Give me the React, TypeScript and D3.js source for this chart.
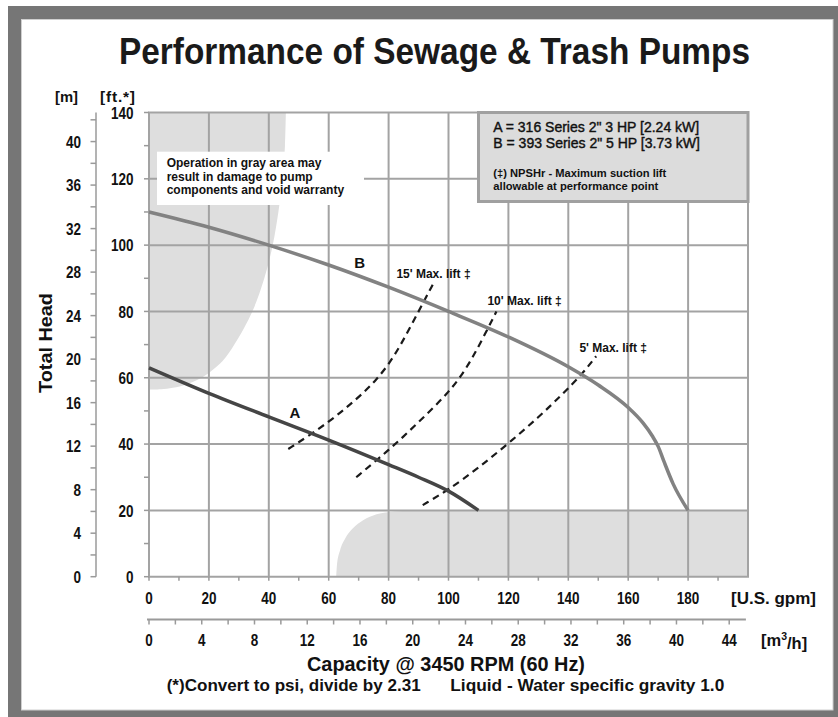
import { useEffect, useRef } from "react";
import * as d3 from "d3";

type Pt = [number, number]; // [U.S. gpm, ft]

const titleText = "Performance of Sewage & Trash Pumps";

// axis ticks
const gpmLabels = [0, 20, 40, 60, 80, 100, 120, 140, 160, 180];
const gpmGrid = [0, 20, 40, 60, 80, 100, 120, 140, 160, 180, 200];
const gpmMinor = [0, 10, 20, 30, 40, 50, 60, 70, 80, 90, 100, 110, 120, 130, 140, 150, 160, 170, 180, 190];
const m3hLabels = [0, 4, 8, 12, 16, 20, 24, 28, 32, 36, 40, 44];
const m3hMinor = [0, 2, 4, 6, 8, 10, 12, 14, 16, 18, 20, 22, 24, 26, 28, 30, 32, 34, 36, 38, 40, 42, 44];
const ftLabels = [0, 20, 40, 60, 80, 100, 120, 140];
const ftMinor = [0, 10, 20, 30, 40, 50, 60, 70, 80, 90, 100, 110, 120, 130, 140];
const mLabels = [0, 4, 8, 12, 16, 20, 24, 28, 32, 36, 40];
const mMinor = [0, 2, 4, 6, 8, 10, 12, 14, 16, 18, 20, 22, 24, 26, 28, 30, 32, 34, 36, 38, 40, 42];

// pump curves (gpm, ft)
const pumpA: Pt[] = [[0, 63], [20, 55.3], [40, 48.2], [60, 41.2], [80, 33.8], [90, 30], [100, 25.8], [110, 20]];
const pumpB: Pt[] = [
  [0, 110], [20, 105.4], [40, 100], [60, 94], [80, 87.3], [100, 80], [120, 72.3],
  [140, 63.3], [150, 57.8], [160, 51], [165, 46.3], [168, 42.5], [170, 39.3],
  [172, 34.6], [175, 28], [180, 20],
];

// NPSHr max suction lift lines
const lift15: Pt[] = [[46.5, 38.5], [53, 42.3], [60, 46.7], [66, 51], [72, 55.8], [76, 59.5], [80, 64], [84, 69.8], [88, 76.6], [92, 83.4], [94.8, 88.2]];
const lift10: Pt[] = [[69.2, 30], [75, 34.4], [80, 38.2], [85, 42.3], [90, 46.6], [95, 51], [100, 55.7], [104, 60.2], [108, 66], [112, 72.8], [116, 80]];
const lift5: Pt[] = [[91.4, 21.6], [100, 26.2], [110, 32.8], [120, 40.2], [130, 48], [138, 55], [145, 61.5], [149.3, 66.5]];

// gray "do not operate" zones
const grayTopLeft: Pt[] = [
  [45.7, 140], [45.4, 130], [44.6, 120], [43.2, 110], [41.3, 100], [38.5, 90], [34.5, 80],
  [28.5, 70], [24.5, 65], [17.5, 60], [12.5, 58], [8, 57], [4, 56.5], [0, 56.4],
];
const grayBottom: Pt[] = [[62.5, 0], [62.8, 4], [63.8, 8], [65.5, 11.5], [68, 14.5], [71.5, 17], [76, 18.8], [82, 19.7], [90, 20], [200, 20]];

const warningLines = ["Operation in gray area may", "result in damage to pump", "components and void warranty"];
const modelLines = ["A = 316 Series 2\" 3 HP [2.24 kW]", "B = 393 Series 2\" 5 HP [3.73 kW]"];
const npshLines = ["(\u2021) NPSHr - Maximum suction lift", "allowable at performance point"];

const FT_PER_M = 3.28084;
const GPM_PER_M3H = 4.40287;

const SANS = "'Liberation Sans', Arial, Helvetica, sans-serif";
const GRID = "#a3a3a3";

export default function App() {
  const ref = useRef<SVGSVGElement>(null);

  useEffect(() => {
    if (!ref.current) return;
    const svg = d3.select(ref.current);
    svg.selectAll("*").remove();

    const x = d3.scaleLinear().domain([0, 200]).range([149, 748]);
    const y = d3.scaleLinear().domain([0, 140]).range([576.7, 112.5]);

    const text = (g: any, tx: number, ty: number, s: string, size: number, anchor = "start") =>
      g.append("text")
        .attr("x", tx).attr("y", ty)
        .attr("font-family", SANS)
        .attr("font-size", size)
        .attr("font-weight", "bold")
        .attr("fill", "#111")
        .attr("text-anchor", anchor)
        .text(s);

    // condensed look for tick numbers
    const num = (tx: number, ty: number, v: number, anchor: string) =>
      text(svg, tx, ty, String(v), 17, anchor)
        .attr("dy", "0.36em")
        .attr("textLength", String(v).length * 7.5)
        .attr("lengthAdjust", "spacingAndGlyphs");

    // frame
    svg.append("rect").attr("x", 8).attr("y", 6).attr("width", 850).attr("height", 730).attr("fill", "#767676");
    svg.append("rect").attr("x", 21.5).attr("y", 19.5).attr("width", 811.5).attr("height", 690.5)
      .attr("fill", "#fff").attr("stroke", "#cfcfcf").attr("stroke-width", 1);

    // title
    text(svg, 119, 64, titleText, 37)
      .attr("textLength", 631).attr("lengthAdjust", "spacingAndGlyphs")
      .attr("fill", "#1a1a1a");

    // gray zones
    svg.append("path")
      .datum(grayTopLeft)
      .attr("fill", "#dedede")
      .attr("d", d3.area<Pt>()
        .y(d => y(d[1]))
        .x0(x(0))
        .x1(d => x(d[0]))
        .curve(d3.curveCatmullRom));

    svg.append("path")
      .datum(grayBottom)
      .attr("fill", "#dedede")
      .attr("d", d3.area<Pt>()
        .x(d => x(d[0]))
        .y0(y(0))
        .y1(d => y(d[1]))
        .curve(d3.curveMonotoneX));

    // grid
    const grid = svg.append("g").attr("stroke", GRID).attr("stroke-width", 2);
    grid.selectAll("line.v").data(gpmGrid).join("line")
      .attr("x1", d => x(d)).attr("x2", d => x(d))
      .attr("y1", y(0)).attr("y2", y(140));
    grid.selectAll("line.h").data(ftLabels).join("line")
      .attr("class", "h")
      .attr("x1", x(0) - 1).attr("x2", x(200) + 1)
      .attr("y1", d => y(d)).attr("y2", d => y(d));

    // ticks
    const ticks = svg.append("g").attr("stroke", "#9a9a9a").attr("stroke-width", 1.5);
    ticks.selectAll("line.ft").data(ftMinor).join("line").attr("class", "ft")
      .attr("x1", x(0) - 5).attr("x2", x(0))
      .attr("y1", d => y(d)).attr("y2", d => y(d));
    ticks.selectAll("line.gpm").data(gpmMinor).join("line").attr("class", "gpm")
      .attr("x1", d => x(d)).attr("x2", d => x(d))
      .attr("y1", y(0)).attr("y2", y(0) + 4);

    // metre axis
    ticks.append("line").attr("x1", 96).attr("x2", 96).attr("y1", y(0)).attr("y2", y(140));
    ticks.selectAll("line.m").data(mMinor).join("line").attr("class", "m")
      .attr("x1", 90.5).attr("x2", 96)
      .attr("y1", d => y(d * FT_PER_M)).attr("y2", d => y(d * FT_PER_M));

    // m3/h axis
    const m3hY = 619.5;
    ticks.append("line").attr("x1", x(0) - 2).attr("x2", x(199.3)).attr("y1", m3hY).attr("y2", m3hY).attr("stroke-width", 2);
    ticks.selectAll("line.q").data(m3hMinor).join("line").attr("class", "q")
      .attr("x1", d => x(d * GPM_PER_M3H)).attr("x2", d => x(d * GPM_PER_M3H))
      .attr("y1", m3hY).attr("y2", m3hY + 5);

    // tick labels
    ftLabels.forEach(v => num(133.5, y(v), v, "end"));
    mLabels.forEach(v => num(81, y(v * FT_PER_M), v, "end"));
    gpmLabels.forEach(v => num(x(v), 598, v, "middle"));
    m3hLabels.forEach(v => num(x(v * GPM_PER_M3H), 640, v, "middle"));

    text(svg, 55, 101.5, "[m]", 15.5).attr("textLength", 23).attr("lengthAdjust", "spacingAndGlyphs");
    text(svg, 100, 101.5, "[ft.*]", 15.5).attr("textLength", 35).attr("lengthAdjust", "spacing");
    text(svg, 731, 598, "[U.S. gpm]", 16.5).attr("dy", "0.36em").attr("textLength", 85).attr("lengthAdjust", "spacingAndGlyphs");
    const m3h = text(svg, 761, 640, "[m", 16.5).attr("dy", "0.36em");
    m3h.append("tspan").attr("font-size", 10.5).attr("dy", "-0.55em").text("3");
    m3h.append("tspan").attr("dy", "0.55em").text("/h]");

    text(svg, 0, 0, "Total Head", 19)
      .attr("transform", "translate(51.5,343) rotate(-90)")
      .attr("text-anchor", "middle")
      .attr("textLength", 100).attr("lengthAdjust", "spacingAndGlyphs");

    text(svg, 446, 671, "Capacity @ 3450 RPM (60 Hz)", 19.5, "middle")
      .attr("textLength", 278).attr("lengthAdjust", "spacingAndGlyphs");
    text(svg, 166.7, 690.5, "(*)Convert to psi, divide by 2.31", 17)
      .attr("textLength", 254).attr("lengthAdjust", "spacingAndGlyphs");
    text(svg, 450.3, 690.5, "Liquid - Water specific gravity 1.0", 17)
      .attr("textLength", 274).attr("lengthAdjust", "spacingAndGlyphs");

    // warning note box
    svg.append("rect").attr("x", 157).attr("y", 151.7).attr("width", 207).attr("height", 53.3).attr("fill", "#fff");
    warningLines.forEach((s, i) => text(svg, 166.7, 166.8 + i * 13.8, s, 12));

    // legend box
    svg.append("rect").attr("x", 478.5).attr("y", 112.5).attr("width", 269.5).attr("height", 89)
      .attr("fill", "#dcdcdc").attr("stroke", "#a0a0a0").attr("stroke-width", 3);
    modelLines.forEach((s, i) =>
      text(svg, 493.3, 132.3 + i * 15.4, s, 14).attr("font-weight", "normal")
        .attr("stroke", "#111").attr("stroke-width", 0.4));
    npshLines.forEach((s, i) =>
      text(svg, 493.3, 176.7 + i * 13.5, s, 10.5)
        .attr("textLength", i === 0 ? 173 : 165).attr("lengthAdjust", "spacingAndGlyphs"));

    // NPSHr lines
    const line = d3.line<Pt>().x(d => x(d[0])).y(d => y(d[1])).curve(d3.curveMonotoneX);
    const smooth = d3.line<Pt>().x(d => x(d[0])).y(d => y(d[1])).curve(d3.curveBasis);
    [lift15, lift10, lift5].forEach(pts => {
      svg.append("path").datum(pts)
        .attr("fill", "none").attr("stroke", "#1a1a1a").attr("stroke-width", 2.2)
        .attr("stroke-dasharray", "7,5").attr("d", smooth);
    });
    text(svg, x(82.6), y(91.5), "15' Max. lift \u2021", 12).attr("dy", "0.36em");
    text(svg, x(113), y(83.2), "10' Max. lift \u2021", 12).attr("dy", "0.36em");
    text(svg, x(143.7), y(69), "5' Max. lift \u2021", 12).attr("dy", "0.36em");

    // pump curves
    svg.append("path").datum(pumpB)
      .attr("fill", "none").attr("stroke", "#828282").attr("stroke-width", 3.5).attr("d", line);
    svg.append("path").datum(pumpA)
      .attr("fill", "none").attr("stroke", "#454545").attr("stroke-width", 3.5).attr("d", line);
    text(svg, x(70.3), y(94.6), "B", 15, "middle").attr("dy", "0.36em");
    text(svg, x(48.7), y(49.4), "A", 15, "middle").attr("dy", "0.36em");
  }, []);

  return <svg ref={ref} width={838} height={717} style={{ position: "absolute", left: 0, top: 0 }} />;
}
